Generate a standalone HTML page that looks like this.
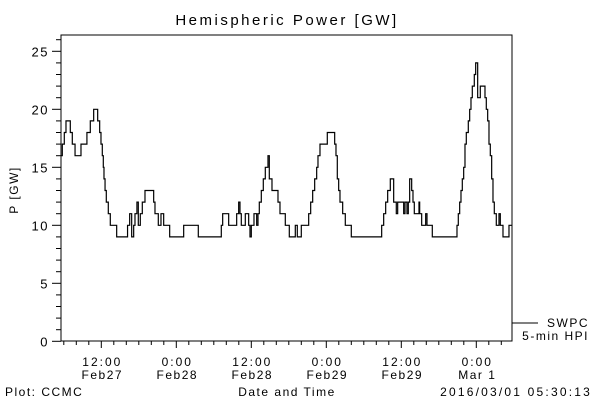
<!DOCTYPE html>
<html><head><meta charset="utf-8"><style>
html,body{margin:0;padding:0;background:#fff;}
svg{display:block;font-family:"Liberation Sans",sans-serif;}
text{letter-spacing:1.5px;}
</style></head><body>
<svg id="chart" width="600" height="400" viewBox="0 0 600 400">
<text x="287" y="25" text-anchor="middle" font-size="15" style="letter-spacing:2.5px">Hemispheric Power [GW]</text>
<rect x="61" y="35" width="451" height="306" fill="none" stroke="#000" stroke-width="1"/>
<g id="yaxis"></g>
<g id="xaxis"></g>
<text transform="translate(18,190) rotate(-90)" text-anchor="middle" font-size="12">P [GW]</text>
<text x="287" y="396" text-anchor="middle" font-size="12">Date and Time</text>
<text x="5" y="396" font-size="12">Plot: CCMC</text>
<text x="592" y="396" text-anchor="end" font-size="12" style="letter-spacing:2.2px">2016/03/01 05:30:13</text>
<g>
<line x1="512" y1="323" x2="538" y2="323" stroke="#000"/>
<text x="589" y="327" text-anchor="end" font-size="12">SWPC</text>
<text x="589" y="340" text-anchor="end" font-size="12">5-min HPI</text>
</g>
<path id="series" fill="none" stroke="#000" stroke-width="1.2"/>
</svg>
<script>
// hours since 2016-02-27 00:00
const times = [5.55,5.76,6.08,6.35,7.04,7.36,7.8,8.75,9.7,10.24,10.78,11.42,11.74,11.95,12.16,12.32,12.43,12.6,12.8,13.12,13.44,14.46,16.2,16.54,16.86,17.18,17.39,17.7,17.92,18.24,18.56,18.99,20.38,20.59,21.12,21.55,21.98,22.94,25.18,27.52,
31.2,31.42,32.38,33.66,33.98,34.19,34.4,35.04,35.58,35.79,36,36.43,36.86,37.07,37.28,37.6,37.92,38.24,38.67,38.88,39.31,40.27,40.59,41.44,42.08,43.04,43.36,44,45.18,45.5,45.82,46.14,46.46,46.67,46.99,48.16,49.34,49.55,49.76,49.98,50.19,50.62,51.04,52,
56.86,57.18,57.5,57.82,58.24,58.78,59.2,59.42,60.38,60.59,60.91,61.12,61.34,61.66,61.87,62.08,62.83,62.94,63.26,63.9,64.11,64.96,68.91,69.12,69.34,69.55,69.76,69.98,70.19,70.4,70.72,70.94,71.15,71.36,71.68,71.9,72.22,72.64,73.39,73.6,73.82,74.03,74.24,74.46,74.67,74.88,75.2,75.63,75.84,76.27,77.23];
const values = [16,17,18,19,18,17,16,17,18,19,20,19,18,17,16,15,14,13,12,11,10,9,10,11,9,10,11,12,10,11,12,13,12,11,10,11,10,9,10,9,
10,11,10,11,12,11,10,11,10,9,10,11,10,11,12,13,14,15,16,14,13,12,11,10,9,10,9,10,11,12,13,14,15,16,17,18,17,16,14,13,12,11,10,9,
10,11,12,13,14,12,11,12,11,12,11,12,14,13,12,11,12,11,10,11,10,9,10,11,12,13,14,15,17,18,19,20,21,22,23,24,21,22,21,20,19,17,16,14,12,11,10,11,10,9,10];
const yTicks = [0,5,10,15,20,25];
const xTickHours = [12,24,36,48,60,72];
const xTickTime = ["12:00","0:00","12:00","0:00","12:00","0:00"];
const xTickDate = ["Feb27","Feb28","Feb28","Feb29","Feb29","Mar 1"];
const tEnd = 77.71;

const NS="http://www.w3.org/2000/svg";
const X = h => 26.3 + 6.25*h;
const Y = v => 341.3 - 11.6*v;
function mk(tag, attrs, parent){const e=document.createElementNS(NS,tag);for(const k in attrs)e.setAttribute(k,attrs[k]);parent.appendChild(e);return e;}
const ya=document.getElementById('yaxis'), xa=document.getElementById('xaxis');
for(let v=0; v<=26; v++){
  const major = v%5===0;
  const t=mk('line',{x1:major?52:56,x2:61,y1:Y(v),y2:Y(v),stroke:'#000'},ya);
  
  
}
yTicks.forEach(v=>{
  const t=mk('text',{x:49,y:Y(v)+5,'text-anchor':'end','font-size':13},ya);
  t.textContent=v;
  
  
});
for(let h=6; h<=tEnd; h+=2){
  const major = h%12===0;
  const t=mk('line',{x1:X(h),x2:X(h),y1:341,y2:major?348:345,stroke:'#000'},xa);
  
  
}
xTickHours.forEach((h,i)=>{
  const a=mk('text',{x:X(h)+1,y:366,'text-anchor':'middle','font-size':12,style:'letter-spacing:2px'},xa);
  a.textContent=xTickTime[i];
  
  
  const b=mk('text',{x:X(h)+1,y:379,'text-anchor':'middle','font-size':12,style:'letter-spacing:1.5px'},xa);
  b.textContent=xTickDate[i];
  
  
});
let d='M'+X(times[0])+','+Y(values[0]);
for(let i=1;i<times.length;i++){
  d+=' H'+X(times[i])+' V'+Y(values[i]);
}
d+=' H'+X(tEnd);
document.getElementById('series').setAttribute('d',d);
</script>
</body></html>
